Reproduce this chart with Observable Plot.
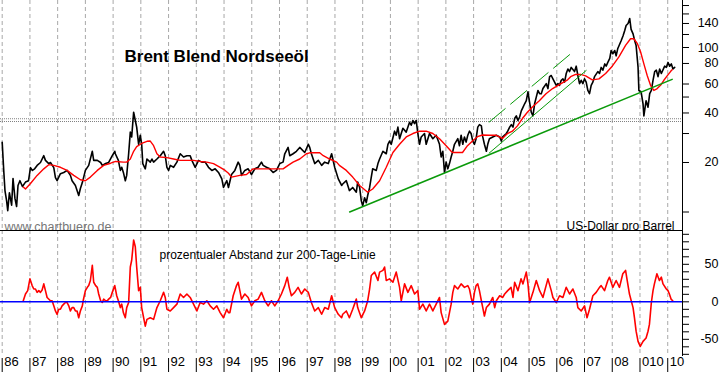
<!DOCTYPE html>
<html>
<head>
<meta charset="utf-8">
<script src="https://cdn.jsdelivr.net/npm/d3@7"></script>
<script src="https://cdn.jsdelivr.net/npm/@observablehq/plot@0.6"></script>
<style>
  body { margin: 0; background: #fff; }
  #chart { position: relative; width: 723px; height: 373px; background: #fff; }
  #chart svg { position: absolute; left: 0; }
</style>
</head>
<body>
<div id="chart"></div>
<script>
// ---------- data ----------
const years = d3.range(1986, 2011);
const yearLabels = ["86","87","88","89","90","91","92","93","94","95","96","97","98","99","00","01","02","03","04","05","06","07","08","010","10"];

const priceTicks = [10, 20, 30, 40, 50, 60, 80, 100, 120, 140, 160, 180];
const priceLabels = [20, 40, 60, 80, 100, 140];
const pctTicks = [-70, -60, -50, -40, -30, -20, -10, 0, 10, 20, 30, 40, 50, 60, 70, 80, 90];
const pctLabels = [-50, 0, 50];

// Brent price, US-Dollar per barrel [year, price]
const brent = [
[1986.00,26.5],[1986.06,17.4],[1986.10,13.5],[1986.16,11.7],[1986.20,10.2],[1986.26,13.1],[1986.34,11.0],[1986.39,16.0],[1986.46,12.1],[1986.52,10.8],[1986.57,14.5],[1986.64,15.5],[1986.73,14.3],[1986.84,15.2],[1986.95,15.5],
[1987.02,18.6],[1987.09,17.9],[1987.17,18.3],[1987.26,19.2],[1987.38,20.0],[1987.50,22.0],[1987.56,20.6],[1987.68,19.7],[1987.74,20.0],[1987.86,18.6],[1987.92,16.2],[1987.98,15.5],
[1988.10,17.1],[1988.22,17.4],[1988.34,17.9],[1988.46,16.7],[1988.52,15.5],[1988.64,14.5],[1988.76,12.6],[1988.82,13.9],[1988.89,15.1],
[1989.00,17.9],[1989.12,19.2],[1989.25,23.4],[1989.30,20.6],[1989.43,20.6],[1989.55,20.0],[1989.61,19.2],[1989.73,19.7],[1989.84,20.0],[1989.97,22.0],
[1990.06,23.4],[1990.08,22.6],[1990.19,20.6],[1990.26,17.9],[1990.31,18.7],[1990.37,17.4],[1990.44,15.5],[1990.49,16.7],[1990.56,22.6],[1990.62,30.6],[1990.67,28.6],[1990.74,40.4],[1990.80,36.0],[1990.85,32.8],[1990.92,25.8],[1990.98,29.3],
[1991.03,25.8],[1991.07,19.7],[1991.16,18.3],[1991.22,21.0],[1991.34,20.1],[1991.40,21.0],[1991.46,20.1],[1991.58,21.0],[1991.70,22.0],[1991.82,23.4],[1991.88,22.0],[1991.94,18.7],
[1992.00,17.9],[1992.06,19.2],[1992.18,18.7],[1992.30,20.1],[1992.42,22.6],[1992.54,21.6],[1992.66,22.0],[1992.78,22.0],[1992.84,20.6],[1992.96,18.7],
[1993.08,20.6],[1993.20,20.1],[1993.32,20.1],[1993.44,18.7],[1993.56,17.9],[1993.68,18.3],[1993.80,17.4],[1993.92,15.9],[1993.98,14.1],
[1994.04,14.8],[1994.10,15.5],[1994.16,14.1],[1994.27,16.9],[1994.39,17.9],[1994.51,20.1],[1994.57,19.2],[1994.63,16.7],[1994.75,17.9],[1994.87,18.3],[1994.99,16.9],
[1995.11,18.3],[1995.23,18.7],[1995.35,20.1],[1995.41,19.2],[1995.53,18.7],[1995.65,18.3],[1995.77,17.4],[1995.89,17.9],
[1996.01,19.7],[1996.13,20.1],[1996.19,22.6],[1996.31,24.7],[1996.37,22.0],[1996.49,22.6],[1996.61,23.4],[1996.73,24.7],[1996.91,23.0],
[1997.04,25.8],[1997.09,24.7],[1997.15,22.6],[1997.27,19.7],[1997.40,20.6],[1997.52,19.2],[1997.63,20.1],[1997.76,19.7],[1997.88,22.6],[1997.99,18.7],
[1998.12,15.9],[1998.24,14.5],[1998.28,14.8],[1998.41,15.5],[1998.52,13.5],[1998.64,14.1],[1998.77,13.2],[1998.82,15.2],[1998.89,14.1],[1998.95,11.7],
[1999.00,10.9],[1999.07,12.2],[1999.13,11.4],[1999.18,12.6],[1999.25,14.1],[1999.31,16.3],[1999.36,18.3],[1999.49,17.9],[1999.55,19.7],[1999.61,21.0],[1999.73,23.4],[1999.85,22.6],[1999.91,25.8],[1999.97,27.0],
[2000.03,25.8],[2000.15,31.0],[2000.21,29.3],[2000.27,32.8],[2000.33,27.9],[2000.45,32.3],[2000.57,30.6],[2000.69,35.1],[2000.75,33.7],[2000.81,36.0],[2000.87,34.5],[2000.93,36.0],[2000.99,30.0],
[2001.05,25.8],[2001.11,28.6],[2001.23,30.0],[2001.29,25.8],[2001.41,30.0],[2001.53,27.9],[2001.65,29.3],[2001.77,25.8],[2001.83,21.6],[2001.89,23.4],[2001.95,17.4],
[2002.01,20.1],[2002.07,18.3],[2002.13,19.7],[2002.19,21.6],[2002.25,23.4],[2002.31,25.8],[2002.43,27.9],[2002.49,25.3],[2002.55,29.3],[2002.61,25.8],[2002.67,28.6],[2002.73,26.6],[2002.79,29.3],[2002.85,31.0],[2002.91,30.0],[2002.97,27.0],
[2003.03,25.8],[2003.09,27.9],[2003.15,32.8],[2003.21,34.0],[2003.28,33.4],[2003.33,28.6],[2003.39,25.8],[2003.46,23.4],[2003.51,25.8],[2003.57,27.9],[2003.69,28.6],[2003.82,29.3],[2003.94,28.6],
[2004.00,27.0],[2004.05,28.6],[2004.18,30.0],[2004.23,31.0],[2004.30,32.8],[2004.36,34.0],[2004.42,32.8],[2004.48,37.0],[2004.54,38.4],[2004.60,36.0],[2004.66,37.8],[2004.72,41.2],[2004.78,43.3],[2004.84,45.5],[2004.90,47.5],[2004.96,53.8],
[2005.02,46.2],[2005.08,40.4],[2005.14,38.4],[2005.20,45.5],[2005.26,49.9],[2005.32,54.8],[2005.38,52.4],[2005.44,52.4],[2005.50,56.3],[2005.62,60.3],[2005.68,56.3],[2005.74,66.5],[2005.80,67.6],[2005.86,64.5],[2005.92,61.6],[2005.98,58.9],
[2006.04,60.3],[2006.10,58.9],[2006.16,63.2],[2006.22,64.5],[2006.28,61.6],[2006.34,69.5],[2006.40,74.0],[2006.46,71.4],[2006.52,75.7],[2006.64,71.4],[2006.70,77.0],[2006.76,67.6],[2006.82,60.3],[2006.88,63.2],[2006.94,60.3],
[2007.00,64.5],[2007.06,61.6],[2007.12,54.8],[2007.18,52.4],[2007.24,58.9],[2007.30,61.6],[2007.36,66.5],[2007.48,71.4],[2007.54,69.5],[2007.60,75.7],[2007.66,72.8],[2007.73,79.5],[2007.78,77.0],[2007.84,81.2],[2007.91,85.9],[2007.96,95.9],
[2008.02,91.6],[2008.09,95.9],[2008.14,89.0],[2008.20,98.7],[2008.32,110],[2008.39,118],[2008.45,127],[2008.50,136],[2008.57,140],[2008.63,150],[2008.68,129],[2008.75,121],[2008.81,110],[2008.86,103],[2008.93,76],[2008.96,54.8],
[2009.04,53.8],[2009.11,45.4],[2009.14,38.4],[2009.22,47.5],[2009.29,43.4],[2009.35,52.4],[2009.41,54.8],[2009.47,63.2],[2009.53,71.4],[2009.59,72.8],[2009.65,66.5],[2009.71,74.0],[2009.77,69.5],[2009.89,77.0],[2009.95,75.7],
[2010.01,81.2],[2010.07,77.0],[2010.13,79.5],[2010.19,74.0],[2010.25,75.7]
];

// 200-day moving average [year, price]
const ma200 = [
[1986.76,14.2],[1986.84,13.8],[1987.02,14.9],[1987.26,16.7],[1987.50,18.3],[1987.68,19.4],[1987.86,19.2],[1988.10,18.7],[1988.34,17.9],[1988.58,16.7],[1988.82,15.7],[1989.00,15.5],[1989.18,16.3],[1989.43,17.9],[1989.66,19.2],[1989.91,19.8],
[1990.09,20.3],[1990.37,20.1],[1990.49,20.1],[1990.62,21.0],[1990.74,23.4],[1990.85,25.0],[1991.03,26.1],[1991.22,26.9],[1991.34,27.0],[1991.46,25.3],[1991.58,22.6],[1991.70,21.6],[1991.94,21.4],[1992.18,21.0],[1992.42,20.6],[1992.66,20.6],[1992.90,20.6],
[1993.14,20.3],[1993.38,20.1],[1993.62,19.7],[1993.86,18.7],[1994.04,17.9],[1994.16,17.2],[1994.27,16.3],[1994.57,16.7],[1994.81,16.9],[1995.05,18.3],[1995.41,18.3],[1995.77,18.3],[1996.13,18.3],[1996.31,19.2],[1996.49,20.1],[1996.73,21.0],[1996.97,22.6],
[1997.09,22.9],[1997.45,22.9],[1997.58,22.0],[1997.81,21.0],[1998.06,20.1],[1998.16,19.2],[1998.41,17.9],[1998.64,16.3],[1998.89,14.5],[1999.18,13.2],[1999.36,13.8],[1999.61,15.5],[1999.85,18.7],
[2000.09,23.0],[2000.33,25.8],[2000.57,28.6],[2000.81,30.0],[2001.05,31.0],[2001.29,31.0],[2001.53,30.0],[2001.77,27.9],[2002.01,25.3],[2002.19,23.4],[2002.24,23.0],[2002.60,23.0],[2002.78,25.3],[2002.96,27.0],
[2003.14,28.7],[2003.32,29.4],[2003.56,29.3],[2003.80,29.3],[2004.04,28.0],[2004.22,30.0],[2004.40,31.0],[2004.58,33.4],[2004.76,37.0],[2004.94,40.4],[2005.12,43.5],[2005.37,47.5],[2005.61,52.4],[2005.85,56.3],
[2006.09,59.5],[2006.39,63.6],[2006.50,66.5],[2006.68,68.6],[2006.86,68.6],[2007.04,67.2],[2007.28,63.6],[2007.52,64.5],[2007.76,69.5],[2008.00,77.0],[2008.24,87.7],[2008.48,103],[2008.66,113],[2008.78,113],
[2008.90,106],[2009.02,94.3],[2009.14,79.5],[2009.26,67.6],[2009.38,58.9],[2009.50,54.8],[2009.62,56.3],[2009.74,58.9],[2009.86,63.2],[2009.98,67.2],[2010.10,71.4],[2010.16,73.3]
];

// percentage distance to the 200-day line [year, percent]
const pctDist = [
[1986.76,1.4],[1986.84,10.4],[1986.92,14.9],[1987.00,30.6],[1987.08,21.6],[1987.14,17.1],[1987.20,17.1],[1987.26,12.6],[1987.32,14.9],[1987.38,12.6],[1987.44,15.8],[1987.50,23.9],[1987.56,14.9],[1987.62,5.8],[1987.74,1.4],[1987.80,1.4],[1987.86,-5.4],[1987.92,-12.2],[1987.98,-16.6],
[1988.04,-9.9],[1988.10,-9.9],[1988.16,-5.4],[1988.22,-3.1],[1988.28,-0.9],[1988.34,-0.9],[1988.40,-5.4],[1988.46,-12.2],[1988.52,-7.7],[1988.58,-7.7],[1988.64,-12.2],[1988.70,-12.2],[1988.76,-21.2],[1988.82,-12.2],[1988.89,-5.4],[1988.92,1.4],
[1989.00,14.9],[1989.07,19.3],[1989.12,21.6],[1989.18,28.4],[1989.25,48.6],[1989.30,26.1],[1989.37,21.6],[1989.43,19.3],[1989.48,10.4],[1989.55,1.4],[1989.61,-0.9],[1989.66,3.6],[1989.73,1.4],[1989.79,1.4],[1989.84,3.6],[1989.91,5.8],[1989.97,12.6],
[1990.06,21.6],[1990.13,8.1],[1990.19,1.4],[1990.26,-7.7],[1990.31,-3.1],[1990.37,-14.4],[1990.44,-21.2],[1990.49,-7.7],[1990.56,-0.9],[1990.62,46.4],[1990.67,55.4],[1990.74,82.4],[1990.80,73.4],[1990.85,46.4],[1990.92,14.9],[1990.98,19.3],
[1991.03,-7.7],[1991.10,-21.2],[1991.16,-32.4],[1991.22,-23.4],[1991.34,-21.2],[1991.46,-23.4],[1991.58,-7.7],[1991.70,1.4],[1991.82,12.6],[1991.88,5.8],[1991.94,-9.9],
[1992.06,-12.2],[1992.18,-7.7],[1992.30,-3.1],[1992.42,10.4],[1992.54,5.8],[1992.66,10.4],[1992.78,5.8],[1992.90,-3.1],
[1993.02,-12.2],[1993.14,-0.9],[1993.26,-3.1],[1993.38,1.4],[1993.50,-5.4],[1993.62,-9.9],[1993.74,-5.4],[1993.86,-14.4],[1993.98,-21.2],
[1994.10,-9.9],[1994.16,-14.4],[1994.21,-14.4],[1994.33,8.1],[1994.45,21.6],[1994.51,26.1],[1994.57,14.9],[1994.63,3.6],[1994.75,10.4],[1994.87,5.8],[1994.99,-5.4],
[1995.11,1.4],[1995.23,3.6],[1995.35,12.6],[1995.47,1.4],[1995.59,-5.4],[1995.71,1.4],[1995.83,-5.4],[1995.95,1.4],
[1996.07,10.4],[1996.19,21.6],[1996.28,32.8],[1996.35,19.3],[1996.43,8.1],[1996.55,12.6],[1996.67,19.3],[1996.79,10.4],[1996.91,17.1],
[1997.04,12.6],[1997.15,-0.9],[1997.27,-12.2],[1997.40,-7.7],[1997.52,-16.6],[1997.63,-7.7],[1997.76,-9.9],[1997.88,8.1],[1997.99,-7.7],
[1998.12,-16.6],[1998.24,-21.2],[1998.28,-16.6],[1998.41,-12.2],[1998.52,-21.2],[1998.64,-9.9],[1998.77,3.6],[1998.82,-7.7],[1998.95,-21.2],
[1999.07,-12.2],[1999.18,1.4],[1999.25,17.1],[1999.31,35.1],[1999.43,39.6],[1999.55,28.4],[1999.61,39.6],[1999.73,41.9],[1999.79,46.4],[1999.85,28.4],[1999.97,30.6],
[2000.09,26.1],[2000.21,39.6],[2000.33,19.3],[2000.39,1.4],[2000.51,23.9],[2000.63,12.6],[2000.75,21.6],[2000.87,10.4],[2000.99,14.9],
[2001.05,-9.9],[2001.17,-3.1],[2001.29,-12.2],[2001.41,-3.1],[2001.53,-12.2],[2001.65,-3.1],[2001.77,5.8],[2001.83,-14.4],[2001.95,-30.1],
[2002.07,-25.7],[2002.13,-14.4],[2002.19,-3.1],[2002.25,12.6],[2002.31,21.6],[2002.43,17.1],[2002.55,23.9],[2002.67,19.3],[2002.79,21.6],[2002.85,17.1],[2002.91,5.8],[2002.97,-3.1],
[2003.03,12.6],[2003.09,21.6],[2003.15,23.9],[2003.21,14.9],[2003.28,1.4],[2003.33,-7.7],[2003.39,-18.9],[2003.46,-7.7],[2003.57,-3.1],[2003.69,5.8],[2003.76,-7.7],[2003.82,1.4],[2003.94,8.1],
[2004.05,5.8],[2004.12,10.4],[2004.23,14.9],[2004.35,19.3],[2004.42,5.8],[2004.48,26.1],[2004.60,14.9],[2004.71,30.6],[2004.78,23.9],[2004.90,39.6],[2004.96,23.9],
[2005.02,-0.9],[2005.14,12.6],[2005.26,28.4],[2005.38,14.9],[2005.50,5.8],[2005.68,30.6],[2005.80,14.9],[2005.86,5.8],[2005.98,-0.9],
[2006.10,8.1],[2006.22,5.8],[2006.34,19.3],[2006.46,10.4],[2006.58,17.1],[2006.70,5.8],[2006.76,-7.7],[2006.88,-12.2],
[2007.00,-5.4],[2007.09,-21.2],[2007.18,-9.9],[2007.30,8.1],[2007.42,12.6],[2007.54,19.3],[2007.60,21.6],[2007.72,14.9],[2007.84,28.4],[2007.90,32.8],
[2008.02,19.3],[2008.14,28.4],[2008.26,19.3],[2008.38,37.4],[2008.48,41.9],[2008.54,28.4],[2008.62,10.4],[2008.75,-7.7],[2008.80,-21.2],[2008.86,-39.2],[2008.93,-52.7],
[2009.01,-59.5],[2009.11,-52.7],[2009.22,-48.2],[2009.29,-39.2],[2009.34,-30.1],[2009.41,-0.9],[2009.47,14.9],[2009.52,23.9],[2009.61,37.4],[2009.70,28.4],[2009.77,32.8],[2009.83,23.9],[2009.95,17.1],
[2010.01,14.9],[2010.06,10.4],[2010.12,3.6],[2010.18,1.4]
];

// trend lines [year, price]
const supportLine = [[1998.53, 10.0], [2010.16, 64.0]];
const steepLine = [[2003.56, 22.8], [2007.06, 72.5]];
const channelLine = [[2003.56, 35.2], [2006.50, 91.6]];
const resistance = [36.9, 35.5];

// ---------- layout ----------
const X_DOMAIN = [1985.939, 2010.533];
const PRICE_DOMAIN = [7.72, 193.1];
const PCT_DOMAIN = [-72.9, 95.07];
const FONT = "'Liberation Sans', Arial, Helvetica, sans-serif";
const styleBase = {background: "white", fontFamily: FONT, fontSize: "12px", color: "black", overflow: "visible"};
const gridOpts = {stroke: "#a8a8a8", strokeOpacity: 1, strokeDasharray: "4,3", strokeWidth: 1};

const topChart = Plot.plot({
  width: 723, height: 230,
  marginTop: 0, marginBottom: 0, marginLeft: 0, marginRight: 41,
  x: {domain: X_DOMAIN, axis: null},
  y: {type: "log", domain: PRICE_DOMAIN, axis: null},
  style: styleBase,
  marks: [
    Plot.gridX(years, gridOpts),
    Plot.ruleY(resistance, {stroke: "#808080", strokeDasharray: "1,1", strokeWidth: 1}),
    Plot.line(brent, {x: d => d[0], y: d => d[1], stroke: "black", strokeWidth: 1.6}),
    Plot.line(ma200, {x: d => d[0], y: d => d[1], stroke: "#ff0000", strokeWidth: 1.4}),
    Plot.line(supportLine, {x: d => d[0], y: d => d[1], stroke: "#0a9a0a", strokeWidth: 1.5}),
    Plot.line(steepLine, {x: d => d[0], y: d => d[1], stroke: "#0a9a0a", strokeWidth: 1}),
    Plot.line(channelLine, {x: d => d[0], y: d => d[1], stroke: "#0a9a0a", strokeWidth: 1, strokeDasharray: "21,7"}),
    Plot.ruleX([X_DOMAIN[1]], {stroke: "black", strokeWidth: 1}),
    Plot.axisY({anchor: "right", ticks: priceTicks, tickSize: 6, tickFormat: () => "", stroke: "black"}),
    Plot.text(priceLabels, {y: d => d, text: d => String(d), frameAnchor: "right", dx: 36, textAnchor: "end", fontSize: 12.5, fill: "black"}),
    Plot.text(["Brent Blend Nordseeöl"], {frameAnchor: "top-left", dx: 124, dy: 49.7, textAnchor: "start", fontSize: 17, fontWeight: "bold", fill: "black"}),
    Plot.text(["www.chartbuero.de"], {frameAnchor: "top-left", dx: 4, dy: 221.5, textAnchor: "start", fontSize: 12.5, fill: "#777777"}),
    Plot.text(["US-Dollar pro Barrel"], {frameAnchor: "top-right", dx: -8, dy: 220.5, textAnchor: "end", fontSize: 12, fill: "black"})
  ]
});

const bottomChart = Plot.plot({
  width: 723, height: 143,
  marginTop: 0, marginBottom: 17, marginLeft: 0, marginRight: 41,
  x: {domain: X_DOMAIN, axis: null},
  y: {domain: PCT_DOMAIN, axis: null},
  style: styleBase,
  marks: [
    Plot.gridX(years, gridOpts),
    Plot.ruleY([PCT_DOMAIN[1]], {stroke: "black", strokeWidth: 1.2}),
    Plot.line(pctDist, {x: d => d[0], y: d => d[1], stroke: "#ff0000", strokeWidth: 1.6}),
    Plot.ruleY([0], {stroke: "#0000ff", strokeWidth: 1.5}),
    Plot.ruleX([X_DOMAIN[1]], {stroke: "black", strokeWidth: 1}),
    Plot.axisY({anchor: "right", ticks: pctTicks, tickSize: 6, tickFormat: () => "", stroke: "black"}),
    Plot.text(pctLabels, {y: d => d, text: d => String(d), frameAnchor: "right", dx: 36, textAnchor: "end", fontSize: 12.5, fill: "black"}),
    Plot.axisX({anchor: "bottom", ticks: years, tickSize: 14, tickFormat: () => "", stroke: "black", dy: 2}),
    Plot.text(years, {x: d => d, text: (d, i) => yearLabels[i], frameAnchor: "bottom", dx: 2, dy: 9.5, textAnchor: "start", fontSize: 13, fill: "black"}),
    Plot.text(["prozentualer Abstand zur 200-Tage-Linie"], {frameAnchor: "top-left", dx: 159, dy: 19.5, textAnchor: "start", fontSize: 12, fill: "black"})
  ]
});

const chart = document.getElementById("chart");
topChart.style.top = "0px";
bottomChart.style.top = "230px";
chart.appendChild(topChart);
chart.appendChild(bottomChart);
</script>
</body>
</html>
